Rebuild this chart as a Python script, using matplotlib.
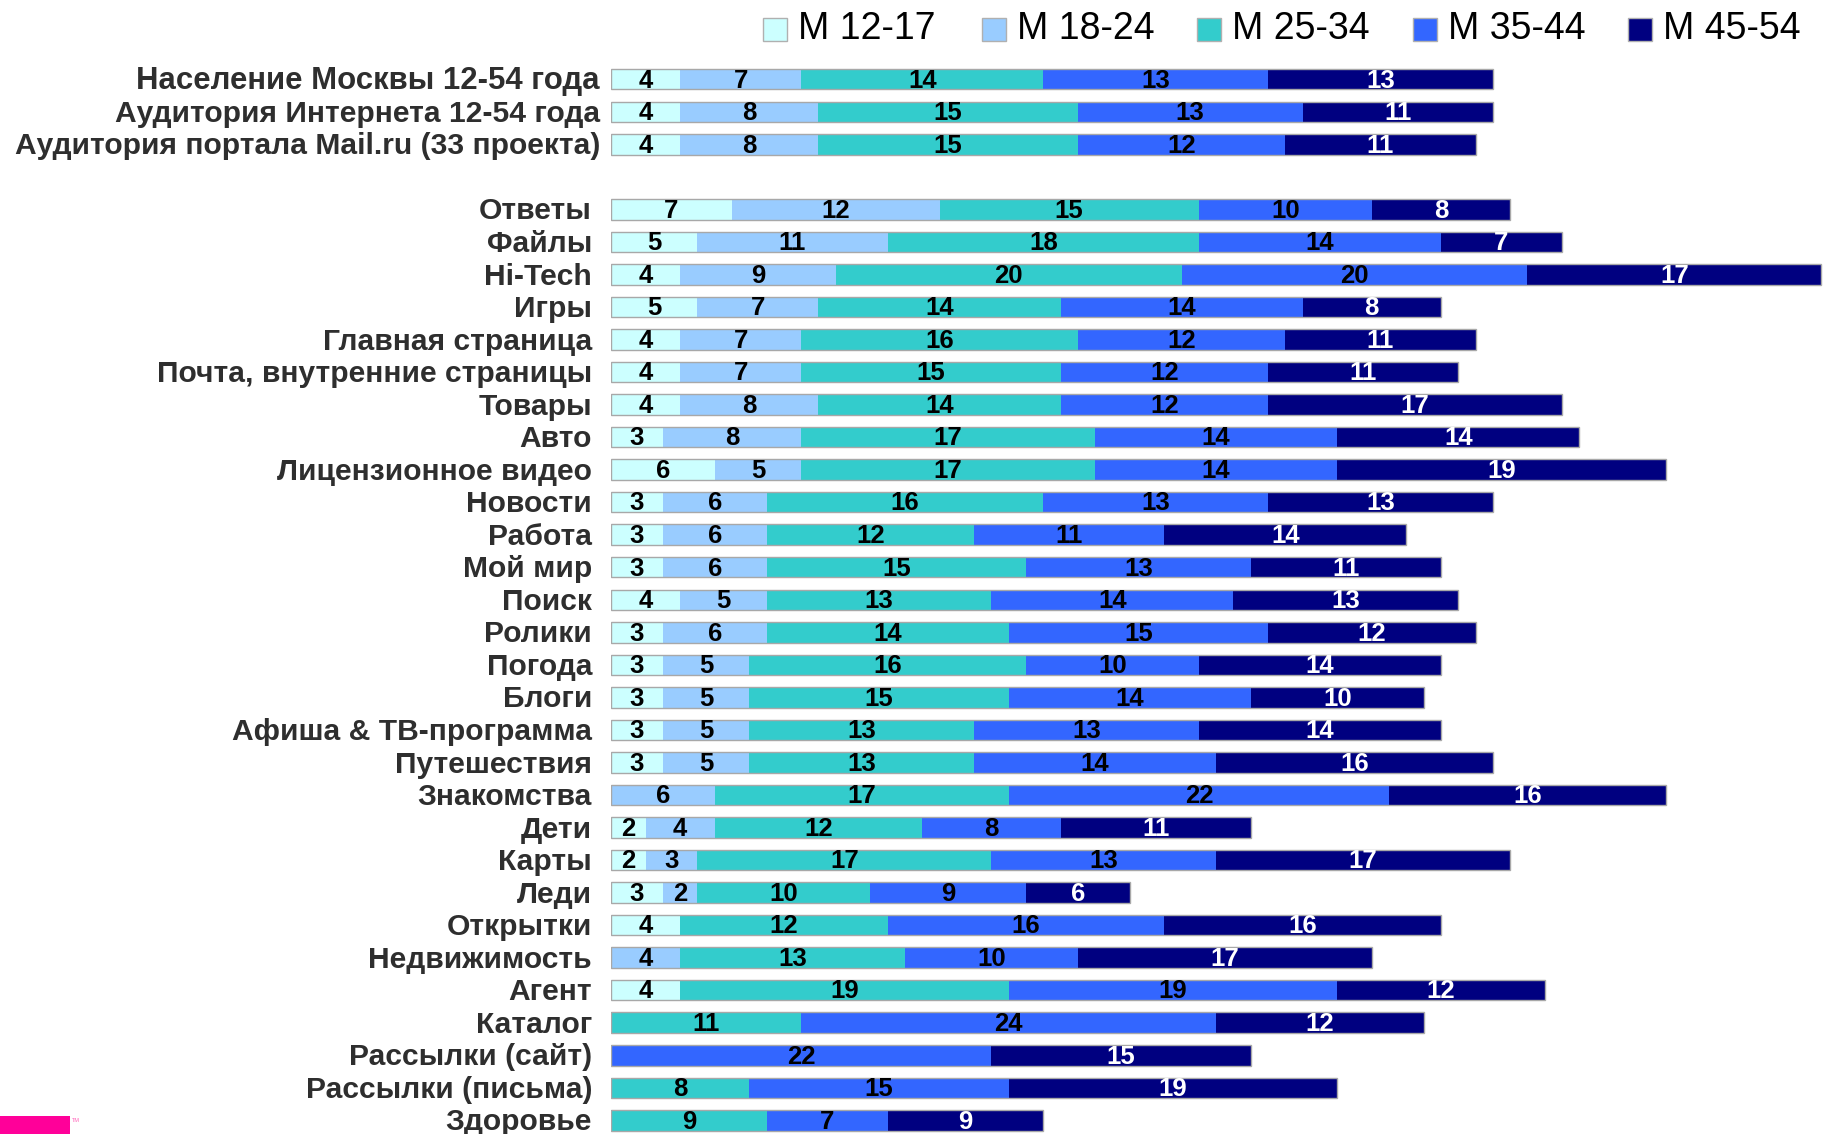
import matplotlib
matplotlib.use("Agg")
import matplotlib.pyplot as plt
from matplotlib.patches import Rectangle

plt.rcParams['font.family'] = ['Liberation Sans', 'DejaVu Sans']

series = ["M 12-17", "M 18-24", "M 25-34", "M 35-44", "M 45-54"]
colors = ["#CCFFFF", "#99CCFF", "#33CCCC", "#3366FF", "#000080"]
text_colors = ["black", "black", "black", "black", "white"]

categories = [
    "Население Москвы 12-54 года",
    "Аудитория Интернета 12-54 года",
    "Аудитория портала Mail.ru (33 проекта)",
    "Ответы", "Файлы", "Hi-Tech", "Игры", "Главная страница",
    "Почта, внутренние страницы", "Товары", "Авто", "Лицензионное видео",
    "Новости", "Работа", "Мой мир", "Поиск", "Ролики", "Погода", "Блоги",
    "Афиша & ТВ-программа", "Путешествия", "Знакомства", "Дети", "Карты",
    "Леди", "Открытки", "Недвижимость", "Агент", "Каталог",
    "Рассылки (сайт)", "Рассылки (письма)", "Здоровье",
]

m12_17 = [4, 4, 4, 7, 5, 4, 5, 4, 4, 4, 3, 6, 3, 3, 3, 4, 3, 3, 3, 3, 3, 0, 2, 2, 3, 4, 0, 4, 0, 0, 0, 0]
m18_24 = [7, 8, 8, 12, 11, 9, 7, 7, 7, 8, 8, 5, 6, 6, 6, 5, 6, 5, 5, 5, 5, 6, 4, 3, 2, 0, 4, 0, 0, 0, 0, 0]
m25_34 = [14, 15, 15, 15, 18, 20, 14, 16, 15, 14, 17, 17, 16, 12, 15, 13, 14, 16, 15, 13, 13, 17, 12, 17, 10, 12, 13, 19, 11, 0, 8, 9]
m35_44 = [13, 13, 12, 10, 14, 20, 14, 12, 12, 12, 14, 14, 13, 11, 13, 14, 15, 10, 14, 13, 14, 22, 8, 13, 9, 16, 10, 19, 24, 22, 15, 7]
m45_54 = [13, 11, 11, 8, 7, 17, 8, 11, 11, 17, 14, 19, 13, 14, 11, 13, 12, 14, 10, 14, 16, 16, 11, 17, 6, 16, 17, 12, 12, 15, 19, 9]

data = [m12_17, m18_24, m25_34, m35_44, m45_54]

W, H = 1826, 1134
fig = plt.figure(figsize=(W / 100, H / 100), dpi=100)
x0 = 611
ax = fig.add_axes([x0 / W, 0, (W - x0) / W, 1])
ax.set_xlim(0, 70.27)
ax.set_ylim(32.42, -2.435)
ax.axis('off')

# row positions: 3 summary rows, one blank, then the sites
ypos = [0, 1, 2] + list(range(4, 4 + len(categories) - 3))
bh = 0.63

lefts = [0.0] * len(categories)
for si, vals in enumerate(data):
    ax.barh(ypos, vals, left=lefts, height=bh, color=colors[si],
            edgecolor='none', linewidth=0)
    for yi, (v, l) in enumerate(zip(vals, lefts)):
        if v > 0:
            ax.text(l + v / 2, ypos[yi] + 0.04, str(v), ha='center', va='center',
                    fontsize=18.5, fontweight='bold', color=text_colors[si])
    lefts = [l + v for l, v in zip(lefts, vals)]

# thin outline around each bar
ax.barh(ypos, lefts, left=0, height=bh, fill=False, edgecolor='#A8A8A8',
        linewidth=1.0)

label_sizes = [22.4, 21.6, 21.6]
for i, (cat, y) in enumerate(zip(categories, ypos)):
    off = -11 if i < 3 else -19
    fs = label_sizes[i] if i < 3 else 21.6
    ax.annotate(cat, xy=(0, y), xycoords='data', xytext=(off * 0.72, -1.5),
                textcoords='offset points', ha='right', va='center',
                fontsize=fs, fontweight='bold', color='#2E2E2E')

# legend drawn manually at the top
leg_x = [763, 982, 1197, 1413, 1628]
for lx, c, name in zip(leg_x, colors, series):
    fig.patches.append(Rectangle((lx / W, 1 - 41 / H), 24 / W, 23 / H,
                                 transform=fig.transFigure, facecolor=c,
                                 edgecolor='#B0B0B0', linewidth=1))
    fig.text((lx + 35) / W, 1 - 29 / H, name, ha='left', va='center',
             fontsize=27, color='black')

# logo fragment bottom-left
fig.patches.append(Rectangle((0, 0), 70 / W, 18 / H, transform=fig.transFigure,
                             facecolor='#FF0099', edgecolor='none'))
fig.text(72 / W, 1 - 1120 / H, "TM", fontsize=4, color='#FF66BB',
         ha='left', va='center')

fig.savefig("out.png", dpi=100)
